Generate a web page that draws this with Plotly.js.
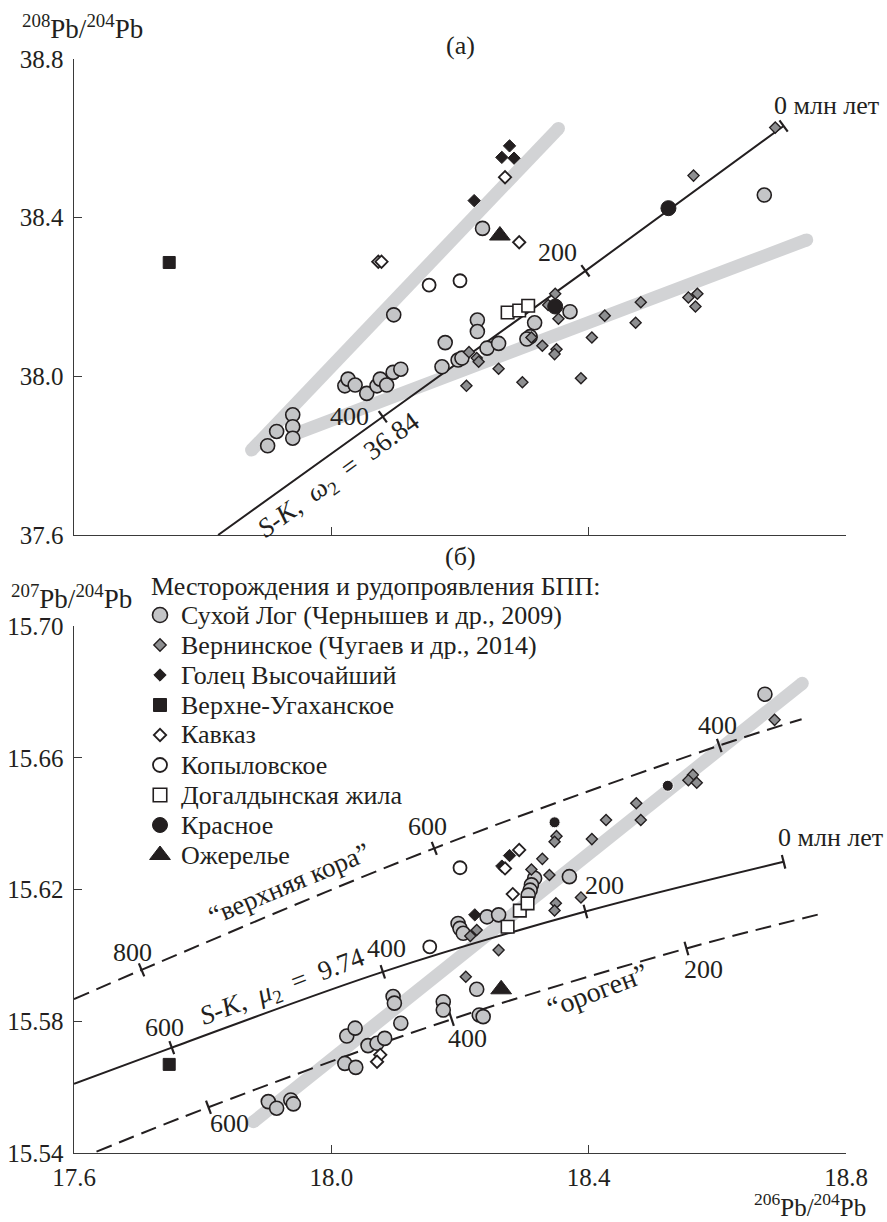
<!DOCTYPE html>
<html><head><meta charset="utf-8">
<script src="https://cdn.plot.ly/plotly-3.0.1.min.js"></script>
<style>html,body{margin:0;padding:0;background:#fff}#chart{width:887px;height:1222px}</style>
</head><body><div id="chart"></div>
<script>
// ================= DATA =================
// shared x axis: 206Pb/204Pb
const xTickVals = [17.6, 18.0, 18.4, 18.8];
const xTickText = ['17.6', '18.0', '18.4', '18.8'];
// panel (а): 208Pb/204Pb
const yTickValsA = [37.6, 38.0, 38.4, 38.8];
const yTickTextA = ['37.6', '38.0', '38.4', '38.8'];
// panel (б): 207Pb/204Pb
const yTickValsB = [15.54, 15.58, 15.62, 15.66, 15.70];
const yTickTextB = ['15.54', '15.58', '15.62', '15.66', '15.70'];

const legendLabels = ['Сухой Лог (Чернышев и др., 2009)', 'Вернинское (Чугаев и др., 2014)',
  'Голец Высочайший', 'Верхне-Угаханское', 'Кавказ', 'Копыловское',
  'Догалдынская жила', 'Красное', 'Ожерелье'];

// ---- panel (а) points ----
const sukhoiLogA_x = [17.901,17.915,17.940,17.940,17.940,18.021,18.026,18.037,18.055,18.071,18.076,18.086,18.096,18.108,18.097,18.177,18.172,18.197,18.203,18.235,18.227,18.227,18.242,18.260,18.316,18.309,18.304,18.371,18.673];
const sukhoiLogA_y = [37.825,37.861,37.903,37.873,37.844,37.976,37.993,37.978,37.957,37.976,37.993,37.978,38.010,38.018,38.155,38.085,38.024,38.041,38.046,38.373,38.142,38.113,38.071,38.083,38.135,38.100,38.094,38.163,38.457];
const verninA_x = [18.214,18.226,18.229,18.210,18.260,18.297,18.348,18.353,18.311,18.328,18.350,18.347,18.388,18.405,18.425,18.473,18.481,18.555,18.569,18.566,18.563,18.690,18.337];
const verninA_y = [38.061,38.046,38.037,37.976,38.019,37.985,38.208,38.145,38.098,38.077,38.068,38.056,37.995,38.098,38.153,38.135,38.187,38.199,38.208,38.176,38.506,38.627,38.180];
const goletsA_x = [18.277,18.265,18.284,18.222];
const goletsA_y = [38.581,38.552,38.550,38.443];
const verkhneA_x = [17.748];
const verkhneA_y = [38.287];
const kavkazA_x = [18.073,18.078,18.270,18.292];
const kavkazA_y = [38.289,38.289,38.502,38.338];
const kopylA_x = [18.152,18.200];
const kopylA_y = [38.230,38.241];
const dogaldA_x = [18.274,18.292,18.306];
const dogaldA_y = [38.161,38.166,38.178];
const krasnoeA_x = [18.348,18.524];
const krasnoeA_y = [38.176,38.424];
const ozherA_x = [18.262];
const ozherA_y = [38.355];

// ---- panel (б) points ----
const sukhoiLogB_x = [17.902,17.915,17.937,17.941,18.024,18.037,18.021,18.038,18.057,18.071,18.083,18.096,18.098,18.108,18.174,18.174,18.197,18.200,18.205,18.242,18.260,18.316,18.311,18.309,18.306,18.370,18.226,18.230,18.236,18.674];
const sukhoiLogB_y = [15.5556,15.5536,15.5561,15.5549,15.5755,15.5779,15.5672,15.5660,15.5726,15.5733,15.5748,15.5875,15.5855,15.5794,15.5859,15.5834,15.6097,15.6082,15.6067,15.6117,15.6123,15.6234,15.6214,15.6198,15.6183,15.6239,15.5897,15.5819,15.5814,15.6793];
const verninB_x = [18.474,18.481,18.427,18.405,18.350,18.347,18.328,18.311,18.339,18.388,18.349,18.347,18.226,18.216,18.260,18.209,18.562,18.555,18.568,18.689];
const verninB_y = [15.6462,15.6411,15.6411,15.6353,15.6362,15.6345,15.6293,15.6261,15.6244,15.6176,15.6158,15.6136,15.6077,15.6059,15.6016,15.5935,15.6548,15.6532,15.6524,15.6715];
const goletsB_x = [18.277,18.265,18.223];
const goletsB_y = [15.6303,15.6271,15.6123];
const verkhneB_x = [17.748];
const verkhneB_y = [15.5669];
const kavkazB_x = [18.292,18.270,18.282,18.076,18.071];
const kavkazB_y = [15.6320,15.6264,15.6186,15.5698,15.5677];
const kopylB_x = [18.200,18.153];
const kopylB_y = [15.6266,15.6026];
const dogaldB_x = [18.274,18.293,18.305];
const dogaldB_y = [15.6087,15.6136,15.6158];
const krasnoeB_x = [18.347,18.523];
const krasnoeB_y = [15.6404,15.6515];
const ozherB_x = [18.264];
const ozherB_y = [15.5897];

// ---- trend bands (grey) ----
const bandA1_x = [17.876, 18.353];
const bandA1_y = [37.814, 38.625];
const bandA2_x = [17.947, 18.739];
const bandA2_y = [37.857, 38.344];
const bandB_x = [17.879, 18.732];
const bandB_y = [15.5495, 15.6826];

// ---- model curves (Stacey–Kramers and plumbotectonics) ----
const skA_x = [17.824, 18.080, 18.395, 18.703];
const skA_y = [37.600, 37.898, 38.266, 38.631];
const skA_age = [null, 400, 200, 0];
const skB_x = [17.600, 17.752, 18.080, 18.395, 18.703];
const skB_y = [15.5610, 15.5720, 15.5950, 15.6133, 15.6284];
const skB_age = [null, 600, 400, 200, 0];
const crust_x = [17.600, 17.705, 18.160, 18.603, 18.731];
const crust_y = [15.5867, 15.5956, 15.6325, 15.6637, 15.6717];
const crust_age = [null, 800, 600, 400, null];
const orogen_x = [17.635, 17.809, 18.187, 18.552, 18.765];
const orogen_y = [15.5404, 15.5539, 15.5806, 15.6021, 15.6128];
const orogen_age = [null, 600, 400, 200, null];

// ================= STYLE / LAYOUT =================
const W = 887, H = 1222;
const M = {l: 74, r: 41, t: 59, b: 69};
const PW = W - M.l - M.r, PH = H - M.t - M.b;
const FONT = '"Liberation Serif", "Times New Roman", Times, serif';
const INK = '#231f20';
const AX = '#3a3a3a';
const CIRC = '#c4c5c7', DIA = '#8e8f91', BAND = '#d2d3d5';
const domA = [(H - M.b - 535) / PH, 1];
const domB = [0, (H - M.b - 626) / PH];
const rangeX = [17.6, 18.8], rangeA = [37.6, 38.8], rangeB = [15.54, 15.70];

const mk = {
  sukhoi: {symbol: 'circle', size: 14, color: CIRC, line: {color: INK, width: 1.6}},
  vernin: {symbol: 'diamond', size: 8.5, color: DIA, line: {color: INK, width: 1.4}},
  golets: {symbol: 'diamond', size: 9.5, color: INK, line: {color: INK, width: 1}},
  verkhne: {symbol: 'square', size: 12, color: INK, line: {color: INK, width: 1}},
  kavkaz: {symbol: 'diamond', size: 9.5, color: '#ffffff', line: {color: INK, width: 1.8}},
  kopyl: {symbol: 'circle', size: 13, color: '#ffffff', line: {color: INK, width: 1.8}},
  dogald: {symbol: 'square', size: 12.5, color: '#ffffff', line: {color: INK, width: 1.6}},
  krasnoe: {symbol: 'circle', size: 15, color: INK, line: {color: INK, width: 1}},
  krasnoeSmall: {symbol: 'circle', size: 11, color: INK, line: {color: '#ffffff', width: 1}},
  ozher: {symbol: 'triangle-up', size: 18, color: INK, line: {color: INK, width: 1}}
};

const traces = [];
function band(x, y, xa, ya) {
  traces.push({x, y, xaxis: xa, yaxis: ya, type: 'scatter', mode: 'lines+markers',
    line: {color: BAND, width: 13}, marker: {color: BAND, size: 13, line: {width: 0}},
    hoverinfo: 'skip', showlegend: false, cliponaxis: false});
}
function curve(x, y, xa, ya, dash) {
  traces.push({x, y, xaxis: xa, yaxis: ya, type: 'scatter', mode: 'lines',
    line: {color: INK, width: 2, dash: dash, shape: 'spline', smoothing: 1},
    hoverinfo: 'skip', showlegend: false, cliponaxis: false});
}
function ticks(x, y, age, xa, ya, pxPerY) {
  const pxPerX = PW / (rangeX[1] - rangeX[0]);
  const tx = [], ty = [], ang = [];
  for (let i = 0; i < x.length; i++) {
    if (age[i] === null) continue;
    const i0 = Math.max(0, i - 1), i1 = Math.min(x.length - 1, i + 1);
    const dx = (x[i1] - x[i0]) * pxPerX, dy = (y[i1] - y[i0]) * pxPerY;
    tx.push(x[i]); ty.push(y[i]);
    ang.push(-Math.atan2(dy, dx) * 180 / Math.PI);
  }
  traces.push({x: tx, y: ty, xaxis: xa, yaxis: ya, type: 'scatter', mode: 'markers',
    marker: {symbol: 'line-ns', size: 10, angle: ang, color: INK, line: {color: INK, width: 2.2}},
    hoverinfo: 'skip', showlegend: false, cliponaxis: false});
}
function pts(x, y, style, xa, ya, name) {
  traces.push({x, y, xaxis: xa, yaxis: ya, type: 'scatter', mode: 'markers', name,
    marker: style, showlegend: false, cliponaxis: false});
}

const pxYA = PH * (domA[1] - domA[0]) / (rangeA[1] - rangeA[0]);
const pxYB = PH * (domB[1] - domB[0]) / (rangeB[1] - rangeB[0]);

// panel (а)
band(bandA1_x, bandA1_y, 'x', 'y');
band(bandA2_x, bandA2_y, 'x', 'y');
curve(skA_x, skA_y, 'x', 'y', 'solid');
ticks(skA_x, skA_y, skA_age, 'x', 'y', pxYA);
// panel (б)
band(bandB_x, bandB_y, 'x2', 'y2');
curve(skB_x, skB_y, 'x2', 'y2', 'solid');
curve(crust_x, crust_y, 'x2', 'y2', '16px,8px');
curve(orogen_x, orogen_y, 'x2', 'y2', '16px,8px');
ticks(skB_x, skB_y, skB_age, 'x2', 'y2', pxYB);
ticks(crust_x, crust_y, crust_age, 'x2', 'y2', pxYB);
ticks(orogen_x, orogen_y, orogen_age, 'x2', 'y2', pxYB);

const seriesA = [[sukhoiLogA_x, sukhoiLogA_y, mk.sukhoi], [verninA_x, verninA_y, mk.vernin],
  [goletsA_x, goletsA_y, mk.golets], [verkhneA_x, verkhneA_y, mk.verkhne],
  [kavkazA_x, kavkazA_y, mk.kavkaz], [kopylA_x, kopylA_y, mk.kopyl],
  [dogaldA_x, dogaldA_y, mk.dogald], [krasnoeA_x, krasnoeA_y, mk.krasnoe],
  [ozherA_x, ozherA_y, mk.ozher]];
const seriesB = [[sukhoiLogB_x, sukhoiLogB_y, mk.sukhoi], [verninB_x, verninB_y, mk.vernin],
  [goletsB_x, goletsB_y, mk.golets], [verkhneB_x, verkhneB_y, mk.verkhne],
  [kavkazB_x, kavkazB_y, mk.kavkaz], [kopylB_x, kopylB_y, mk.kopyl],
  [dogaldB_x, dogaldB_y, mk.dogald], [krasnoeB_x, krasnoeB_y, mk.krasnoeSmall],
  [ozherB_x, ozherB_y, mk.ozher]];
seriesA.forEach((s, i) => pts(s[0], s[1], s[2], 'x', 'y', legendLabels[i]));
seriesB.forEach((s, i) => pts(s[0], s[1], s[2], 'x2', 'y2', legendLabels[i]));

// hand-made legend key on a transparent overlay axis (pixel units)
const legX = 160, legY0 = 615, legStep = 30;
const legStyles = [Object.assign({}, mk.sukhoi, {size: 15}), Object.assign({}, mk.vernin, {size: 9.5}),
  mk.golets, Object.assign({}, mk.verkhne, {size: 13}),
  mk.kavkaz, Object.assign({}, mk.kopyl, {size: 14}), Object.assign({}, mk.dogald, {size: 13.5}),
  mk.krasnoe, mk.ozher];
legStyles.forEach((st, i) => {
  traces.push({x: [legX], y: [legY0 + i * legStep], xaxis: 'x3', yaxis: 'y3', type: 'scatter',
    mode: 'markers', marker: st, hoverinfo: 'skip', showlegend: false, cliponaxis: false});
});

const px = v => (v - M.l) / PW;
const py = v => (H - M.b - v) / PH;
const fNum = {family: FONT, size: 26, color: INK};
const fCyr = {family: FONT, size: 27, color: INK};
const fLeg = {family: FONT, size: 26, color: INK};
const ann = [];
function paperText(text, x, y, xanchor, font, yanchor) {
  ann.push({text, x: px(x), y: py(y), xref: 'paper', yref: 'paper', xanchor: xanchor || 'center',
    yanchor: yanchor || 'middle', showarrow: false, font: font || fCyr, borderpad: 0});
}
function dataText(text, x, y, xa, ya, angle, xanchor, font) {
  ann.push({text, x, y, xref: xa, yref: ya, xanchor: xanchor || 'center', yanchor: 'middle',
    showarrow: false, font: font || fNum, textangle: angle || 0, borderpad: 0});
}
const NB = '\u00a0';
paperText('<sup>208</sup>Pb/<sup>204</sup>Pb', 21, 27, 'left');
paperText('(а)', 460, 45, 'center', fNum);
paperText('(б)', 460, 556, 'center', fNum);
paperText('<sup>207</sup>Pb/<sup>204</sup>Pb', 10, 597, 'left');
paperText('Месторождения и рудопроявления БПП:', 150, 586, 'left', fLeg);
legendLabels.forEach((t, i) => paperText(t, 180, legY0 + i * legStep, 'left', fLeg));
paperText('<sup>206</sup>Pb/<sup>204</sup>Pb', 867, 1222, 'right', {family: FONT, size: 25, color: INK}, 'bottom');

dataText('0 млн лет', 18.687, 38.684, 'x', 'y', 0, 'left');
dataText('200', 18.352, 38.311, 'x', 'y');
dataText('400', 18.029, 37.900, 'x', 'y');
dataText('<i>S</i>-<i>K</i>,' + NB + ' <i>ω</i><sub>2</sub> ' + NB + '=' + NB + ' 36.84', 18.013, 37.749, 'x', 'y', -36, 'center', fCyr);

dataText('0 млн лет', 18.693, 15.6359, 'x2', 'y2', 0, 'left');
dataText('200', 18.425, 15.6211, 'x2', 'y2');
dataText('400', 18.085, 15.6022, 'x2', 'y2');
dataText('600', 17.740, 15.5780, 'x2', 'y2');
dataText('800', 17.691, 15.6010, 'x2', 'y2');
dataText('600', 18.150, 15.6390, 'x2', 'y2');
dataText('400', 18.600, 15.6699, 'x2', 'y2');
dataText('600', 17.841, 15.5491, 'x2', 'y2');
dataText('400', 18.212, 15.5749, 'x2', 'y2');
dataText('200', 18.579, 15.5956, 'x2', 'y2');
dataText('“верхняя кора”', 17.934, 15.6217, 'x2', 'y2', -22.7, 'center', fCyr);
dataText('<i>S</i>-<i>K</i>,' + NB + ' <i>μ</i><sub>2</sub> ' + NB + '=' + NB + ' 9.74', 17.925, 15.5901, 'x2', 'y2', -20.7, 'center', fCyr);
dataText('“ороген”', 18.413, 15.5892, 'x2', 'y2', -20.7, 'center', {family: FONT, size: 28, color: INK});

const axBase = {showline: true, linecolor: AX, linewidth: 1.4, ticks: 'inside', ticklen: 8,
  tickwidth: 1.4, tickcolor: AX, showgrid: false, zeroline: false, fixedrange: true,
  tickfont: {family: FONT, size: 25, color: INK}, tickmode: 'array'};
const layout = {
  width: W, height: H, margin: M, paper_bgcolor: '#ffffff', plot_bgcolor: 'rgba(0,0,0,0)',
  showlegend: false, font: {family: FONT, color: INK, size: 25},
  xaxis: Object.assign({}, axBase, {domain: [0, 1], anchor: 'y', range: rangeX,
    tickvals: xTickVals, ticktext: xTickText, showticklabels: false}),
  yaxis: Object.assign({}, axBase, {domain: domA, anchor: 'x', range: rangeA,
    tickvals: yTickValsA, ticktext: yTickTextA, ticklabelstandoff: 4}),
  xaxis2: Object.assign({}, axBase, {domain: [0, 1], anchor: 'y2', range: rangeX,
    tickvals: xTickVals, ticktext: xTickText, ticklabelstandoff: 2}),
  yaxis2: Object.assign({}, axBase, {domain: domB, anchor: 'x2', range: rangeB,
    tickvals: yTickValsB, ticktext: yTickTextB, ticklabelstandoff: 4}),
  xaxis3: {domain: [0, 1], anchor: 'y3', range: [M.l, W - M.r], visible: false, fixedrange: true},
  yaxis3: {domain: [0, 1], anchor: 'x3', range: [H - M.b, M.t], visible: false, fixedrange: true},
  annotations: ann
};
Plotly.newPlot('chart', traces, layout, {displayModeBar: false, staticPlot: true});
</script></body></html>
